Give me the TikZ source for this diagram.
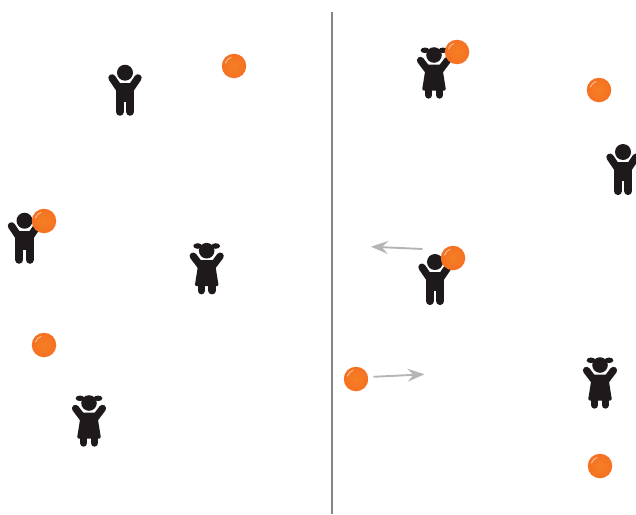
\documentclass[tikz,border=0pt]{standalone}
\usepackage{xcolor}
\usetikzlibrary{arrows.meta,positioning}
\definecolor{ballorange}{HTML}{F47A25}
\definecolor{kidblack}{HTML}{1E1A1B}
\definecolor{arrowgray}{HTML}{B4B5B4}
\definecolor{rulegray}{HTML}{858686}

\begin{document}
\begin{tikzpicture}[x=1pt, y=-1pt,
  ball/.style={circle, inner sep=0pt, minimum size=24.5pt, shade, inner color=ballorange!96!yellow, outer color=ballorange!92!red,
  path picture={\draw[white!50!ballorange, line width=1pt, line cap=round]
    ([shift={(-8.5,-3)}]path picture bounding box.center) to[bend left=25] ([shift={(-3,-8.5)}]path picture bounding box.center);}},
  arr/.style={-{Stealth[length=17pt, width=13pt, inset=6pt]}, arrowgray, line width=1.9pt},
  limb/.style={kidblack, line cap=round},
  boy/.pic={
    \fill[kidblack] (0,0) circle (8);
    \fill[kidblack] (-9.3,10) -- (9.3,10) -- (9.3,29) -- (-9.3,29) -- cycle;
    \draw[limb, line width=8.2pt] (-5.2,24) -- (-5.2,39);
    \draw[limb, line width=8.2pt] (5.2,24) -- (5.2,39);
    \draw[limb, line width=7.4pt] (-6,15.5) -- (-13,5.2);
    \draw[limb, line width=7.4pt] (6,15.5) -- (13,5.2);
  },
  girl/.pic={
    \fill[kidblack] (0,0) circle (7.8);
    \fill[kidblack] (-9,-4.7) ellipse (4.4 and 2.8);
    \fill[kidblack] (9,-4.7) ellipse (4.4 and 2.8);
    \fill[kidblack, rounded corners=1.5pt] (-8,9.5) -- (8,9.5) -- (9.5,20) -- (12,35.5) -- (-12,35.5) -- (-9.5,20) -- cycle;
    \draw[limb, line width=7.4pt] (-5.4,32) -- (-5.4,40);
    \draw[limb, line width=7.4pt] (5.4,32) -- (5.4,40);
    \draw[limb, line width=7.2pt] (-5.8,15.5) -- (-13.5,5.4);
    \draw[limb, line width=7.2pt] (5.8,15.5) -- (13.5,5.4);
  }]
\useasboundingbox (0,0) rectangle (636,514);
% left half
\coordinate (ruletop) at (331.5,12);
\coordinate (rulebot) at (331.5,514);
\draw[rulegray, line width=2pt] (ruletop) -- (rulebot);
\pic at (125,72.7) {boy};
\pic at (24.5,220.7) {boy};
\pic at (206.7,250.7) {girl};
\pic at (89,403) {girl};
\node[ball] (ballA) at (234,66) {};
\node[ball] (ballB) at (44,221) {};
\node[ball] (ballC) at (44,345) {};
% right half
\pic at (434,55) {girl};
\pic at (435,262) {boy};
\pic at (623,152) {boy};
\pic at (600,365) {girl};
\node[ball] (ballD) at (457,52) {};
\node[ball] (ballE) at (599,90) {};
\node[ball] (ballF) at (453,258) {};
\node[ball] (ballG) at (356,379) {};
\node[ball] (ballH) at (600,466) {};
\coordinate (throwA) at (422.5,249);
\coordinate (throwB) at (371,246.7);
\coordinate (throwC) at (373.5,376.8);
\coordinate (throwD) at (424.5,374.3);
\draw[arr] (throwA) -- (throwB);
\draw[arr] (throwC) -- (throwD);
\end{tikzpicture}
\end{document}
